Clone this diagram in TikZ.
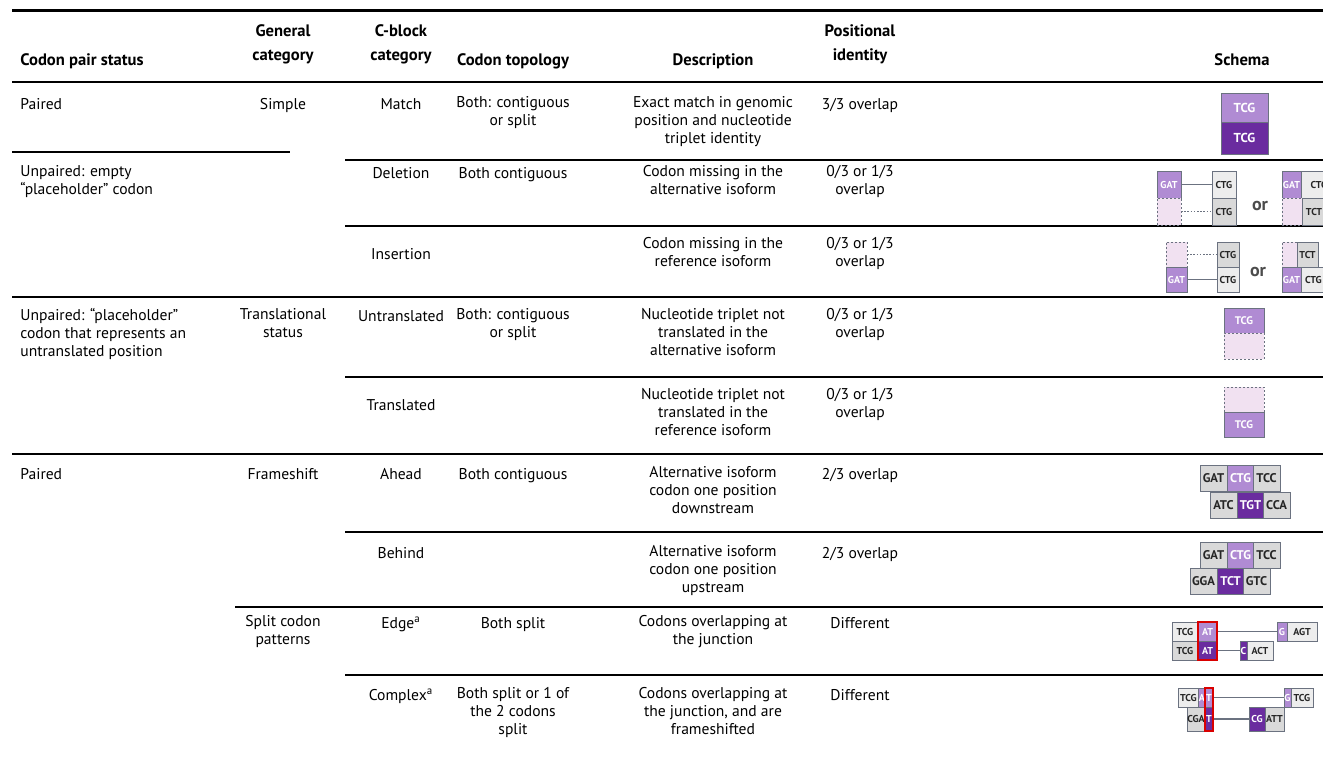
\documentclass[tikz,border=0pt]{standalone}
\usepackage{fontspec}
\setmainfont{PT Sans}
\usetikzlibrary{positioning}
\definecolor{lp}{HTML}{B08BD3}
\definecolor{dp}{HTML}{6A2C9F}
\definecolor{gb}{HTML}{D9D9D9}
\definecolor{wb}{HTML}{EDEDED}
\definecolor{pk}{HTML}{F1E1F1}
\definecolor{ed}{HTML}{6B7280}
% 密码子方框: 名称, 左, 上, 右, 下, 样式, 文字
\newcommand\cod[7]{\node[cb,#6,minimum width={(#4-#2)*0.5pt},minimum height={(#5-#3)*0.5pt}] (#1) at ({(#2+#4)/2},{(#3+#5)/2}) {#7};}
\begin{document}
\begin{tikzpicture}[x=0.5pt,y=-0.5pt,
	txt/.style={font=\fontsize{7.8}{9}\selectfont,align=center,anchor=north,inner sep=0pt,execute at begin node=\strut},
	txtl/.style={txt,align=left,anchor=north west},
	hd/.style={font=\fontsize{8.3}{12}\selectfont\bfseries,align=center,anchor=north,inner sep=0pt,execute at begin node=\strut},
	rl/.style={line width=.6pt},
	cb/.style={draw=ed,line width=.5pt,inner sep=0pt,outer sep=0pt,font=\fontsize{5}{5}\selectfont\bfseries},
	lpb/.style={cb,fill=lp,text=white},
	dpb/.style={cb,fill=dp,text=white},
	grb/.style={cb,fill=gb,text=black!85},
	whb/.style={cb,fill=wb,text=black!85},
	emb/.style={cb,fill=pk,dash pattern=on 1pt off 1pt},
	ln/.style={draw=ed,line width=.6pt},
	dt/.style={ln,dash pattern=on .8pt off .8pt},
	rb/.style={draw=red!85!black,line width=1pt},
	orl/.style={font=\fontsize{9}{9}\selectfont\bfseries,text=black!70,inner sep=0pt}]
	\useasboundingbox (0,0) rectangle (1323,757);
	\def\cA{20}\def\cB{283}\def\cC{401}\def\cD{513}%列位置
	\def\cE{713}\def\cF{860}\def\cG{1242}
	% 表线
	\draw[line width=1.5pt] (12,10)--(1323,10);
	\draw[line width=1pt] (12,82)--(1323,82);
	\foreach \xa/\xb/\yy in {12/290/152,345/1323/160,345/1323/226,12/1323/297,345/1323/377,12/1323/454,345/1323/532,235/1323/607,345/1323/675}
		\draw[rl] (\xa,\yy)--(\xb,\yy);
	% 表头
	\node[hd,anchor=north west] (h1) at (\cA,47.8) {Codon pair status};
	\node[hd] (h2) at (\cB,23.8) {General\\category};
	\node[hd] (h3) at (\cC,23.8) {C-block\\category};
	\node[hd] (h4) at (\cD,47.8) {Codon topology};
	\node[hd] (h5) at (\cE,47.8) {Description};
	\node[hd] (h6) at (\cF,23.8) {Positional\\identity};
	\node[hd] (h7) at (\cG,47.8) {Schema};
	% 第一列
	\node[txtl] (s1) at (\cA,96) {Paired};
	\node[txtl] (s2) at (\cA,165) {Unpaired: empty\\“placeholder” codon};
	\node[txtl] (s3) at (\cA,308) {Unpaired: “placeholder”\\codon that represents an\\untranslated position};
	\node[txtl] (s4) at (\cA,466) {Paired};
	% 第二列
	\node[txt] (g1) at (\cB,96) {Simple};
	\node[txt] (g2) at (\cB,308) {Translational\\status};
	\node[txt] (g3) at (\cB,466) {Frameshift};
	\node[txt] (g4) at (\cB,615) {Split codon\\patterns};
	% 第三列
	\node[txt] (k1) at (\cC,96) {Match};
	\node[txt] (k2) at (\cC,165) {Deletion};
	\node[txt] (k3) at (\cC,246) {Insertion};
	\node[txt] (k4) at (\cC,308) {Untranslated};
	\node[txt] (k5) at (\cC,397) {Translated};
	\node[txt] (k6) at (\cC,466) {Ahead};
	\node[txt] (k7) at (\cC,545) {Behind};
	\node[txt] (k8) at (\cC,615) {Edge\textsuperscript{a}};
	\node[txt] (k9) at (\cC,687) {Complex\textsuperscript{a}};
	% 第四列
	\node[txt] (t1) at (\cD,96) {Both: contiguous\\or split};
	\node[txt] (t2) at (\cD,165) {Both contiguous};
	\node[txt] (t3) at (\cD,308) {Both: contiguous\\or split};
	\node[txt] (t4) at (\cD,466) {Both contiguous};
	\node[txt] (t5) at (\cD,615) {Both split};
	\node[txt] (t6) at (\cD,687) {Both split or 1 of\\the 2 codons\\split};
	% 第五列
	\node[txt] (e1) at (\cE,96) {Exact match in genomic\\position and nucleotide\\triplet identity};
	\node[txt] (e2) at (\cE,165) {Codon missing in the\\alternative isoform};
	\node[txt] (e3) at (\cE,237) {Codon missing in the\\reference isoform};
	\node[txt] (e4) at (\cE,308) {Nucleotide triplet not\\translated in the\\alternative isoform};
	\node[txt] (e5) at (\cE,388) {Nucleotide triplet not\\translated in the\\reference isoform};
	\node[txt] (e6) at (\cE,466) {Alternative isoform\\codon one position\\downstream};
	\node[txt] (e7) at (\cE,545) {Alternative isoform\\codon one position\\upstream};
	\node[txt] (e8) at (\cE,615) {Codons overlapping at\\the junction};
	\node[txt] (e9) at (\cE,687) {Codons overlapping at\\the junction, and are\\frameshifted};
	% 第六列
	\node[txt] (p1) at (\cF,96) {3/3 overlap};
	\node[txt] (p2) at (\cF,165) {0/3 or 1/3\\overlap};
	\node[txt] (p3) at (\cF,237) {0/3 or 1/3\\overlap};
	\node[txt] (p4) at (\cF,308) {0/3 or 1/3\\overlap};
	\node[txt] (p5) at (\cF,388) {0/3 or 1/3\\overlap};
	\node[txt] (p6) at (\cF,466) {2/3 overlap};
	\node[txt] (p7) at (\cF,545) {2/3 overlap};
	\node[txt] (p8) at (\cF,615) {Different};
	\node[txt] (p9) at (\cF,687) {Different};
	% 示意图
	\begin{scope}
		\clip (1100,84) rectangle (1323,757);
		% Match
		\cod{m1}{1221}{93}{1268}{122}{lpb,font=\fontsize{6.5}{6.5}\selectfont\bfseries}{TCG}
		\cod{m2}{1221}{122}{1268}{154}{dpb,font=\fontsize{6.5}{6.5}\selectfont\bfseries}{TCG}
		% Deletion
		\cod{d1}{1157}{171}{1181}{198}{lpb}{GAT}
		\cod{d2}{1157}{198}{1181}{225}{emb}{}
		\cod{d3}{1212}{171}{1236}{198}{whb}{CTG}
		\cod{d4}{1212}{198}{1236}{225}{grb}{CTG}
		\draw[ln] (d1)--(d3);
		\draw[dt] (d2)--(d4);
		\node[orl] (or1) at (1260,206) {or};
		\cod{d5}{1282}{171}{1301}{198}{lpb}{GAT}
		\cod{d6}{1301}{171}{1337}{198}{whb}{CTG}
		\cod{d7}{1282}{198}{1302}{225}{emb}{}
		\cod{d8}{1302}{198}{1326}{225}{grb}{TCT}
		% Insertion
		\cod{i1}{1166}{242}{1187}{267}{emb}{}
		\cod{i2}{1166}{267}{1187}{292}{lpb}{GAT}
		\cod{i3}{1217}{242}{1239}{267}{grb}{CTG}
		\cod{i4}{1217}{267}{1239}{292}{whb}{CTG}
		\draw[dt] (i1)--(i3);
		\draw[ln] (i2)--(i4);
		\node[orl] (or2) at (1258,272) {or};
		\cod{i5}{1282}{242}{1297}{267}{emb}{}
		\cod{i6}{1297}{242}{1318}{267}{grb}{TCT}
		\cod{i7}{1282}{267}{1301}{292}{lpb}{GAT}
		\cod{i8}{1301}{267}{1326}{292}{whb}{CTG}
		% Untranslated / Translated
		\cod{u1}{1224}{308}{1264}{333}{lpb,font=\fontsize{5.5}{5.5}\selectfont\bfseries}{TCG}
		\cod{u2}{1224}{333}{1264}{359}{emb}{}
		\cod{v1}{1224}{387}{1264}{412}{emb}{}
		\cod{v2}{1224}{412}{1264}{437}{lpb,font=\fontsize{5.5}{5.5}\selectfont\bfseries}{TCG}
		% Ahead / Behind
		\foreach \n/\xa/\ya/\s/\c in {a1/1200/465/grb/GAT,a2/1227/465/lpb/CTG,a3/1253/465/grb/TCC,
			a4/1210/492/grb/ATC,a5/1237/492/dpb/TGT,a6/1263/492/grb/CCA,
			b1/1200/542/grb/GAT,b2/1227/542/lpb/CTG,b3/1253/542/grb/TCC,
			b4/1190/568/grb/GGA,b5/1217/568/dpb/TCT,b6/1243/568/grb/GTC}
			\cod{\n}{\xa}{\ya}{\xa+27}{\ya+26}{\s,font=\fontsize{6.3}{6.3}\selectfont\bfseries}{\c}
		% Edge
		\cod{f1}{1172}{622}{1198}{641}{whb}{TCG}
		\cod{f2}{1198}{622}{1217}{641}{lpb}{AT}
		\cod{f3}{1277}{622}{1287}{641}{lpb}{G}
		\cod{f4}{1287}{622}{1317}{641}{whb}{AGT}
		\cod{f5}{1172}{641}{1198}{660}{grb}{TCG}
		\cod{f6}{1198}{641}{1217}{660}{dpb}{AT}
		\cod{f7}{1240}{641}{1247}{660}{dpb}{C}
		\cod{f8}{1247}{641}{1273}{660}{whb}{ACT}
		\draw[ln] (f2)--(f3);
		\draw[ln] (f6)--(f7);
		\draw[rb] (f2.north west) rectangle (f6.south east);
		% Complex
		\cod{c1}{1178}{688}{1199}{707}{whb}{TCG}
		\cod{c2}{1199}{688}{1205}{707}{lpb}{A}
		\cod{c3}{1205}{688}{1213}{707}{lpb}{T}
		\cod{c4}{1284}{688}{1291}{707}{lpb}{G}
		\cod{c5}{1291}{688}{1313}{707}{whb}{TCG}
		\cod{c6}{1187}{707}{1205}{731}{grb}{CGA}
		\cod{c7}{1205}{707}{1213}{731}{dpb}{T}
		\cod{c8}{1249}{707}{1265}{731}{dpb}{CG}
		\cod{c9}{1265}{707}{1284}{731}{grb}{ATT}
		\draw[ln] (c3)--(c4);
		\draw[ln] (c7)--(c8);
		\draw[rb] (c3.north west) rectangle (c7.south east);
	\end{scope}
\end{tikzpicture}
\end{document}
